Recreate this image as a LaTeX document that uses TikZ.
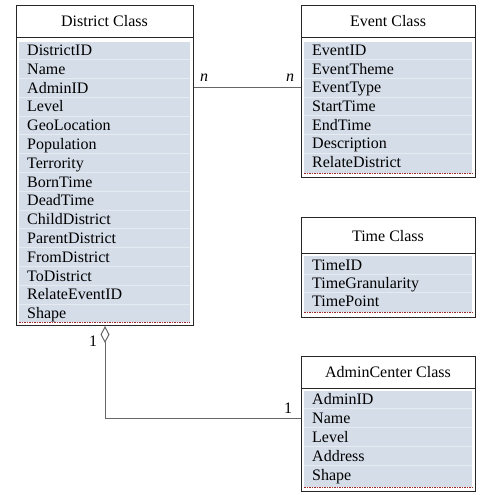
\documentclass[tikz,border=0pt]{standalone}
\usepackage{fontspec}
\setmainfont{Liberation Serif}
\usetikzlibrary{arrows.meta}
\definecolor{attrblue}{RGB}{213,221,233}
\definecolor{rowline}{RGB}{230,235,242}
\definecolor{dashred}{RGB}{160,40,40}

\begin{document}
\begin{tikzpicture}[x=1pt,y=-1pt,
            font=\fontsize{16}{18}\selectfont,
            classbox/.style={draw=black!85,line width=1pt,anchor=north west,inner sep=0pt},
            attr/.style={anchor=west,inner sep=0pt,text height=12.5pt,text depth=1.5pt},
            title/.style={inner sep=0pt},
            sep/.style={draw=black!85,line width=1pt},
            attrdash/.style={draw=dashred,line width=0.6pt,dash pattern=on 1.5pt off 1pt},
            link/.style={draw=black!60,line width=1pt},
            mult/.style={inner sep=0pt},
        ]
        \useasboundingbox (0,0) rectangle (496,495);
        % District Class
        \node[classbox,minimum width=177pt,minimum height=320pt] (districtbox) at (16,5) {};
        \node[title] (district) at (104.5,21) {District Class};
        \draw[sep] (16,38) -- (193,38);
        \fill[attrblue] (19,42) rectangle (190,322);
        \foreach \i in {1,...,14}
            \draw[rowline] (19,{50+(\i-0.5)*18.8}) -- (190,{50+(\i-0.5)*18.8});
        \draw[attrdash] (19,322) -- (190,322);
        \foreach \t [count=\i] in {DistrictID,Name,AdminID,Level,GeoLocation,Population,Terrority,BornTime,DeadTime,ChildDistrict,ParentDistrict,FromDistrict,ToDistrict,RelateEventID,Shape}
            \node[attr] (district-\i) at (27,{50+(\i-1)*18.8}) {\t};
        % Event Class
        \node[classbox,minimum width=174pt,minimum height=172pt] (eventbox) at (301,5) {};
        \node[title] (event) at (388,21) {Event Class};
        \draw[sep] (301,38) -- (475,38);
        \fill[attrblue] (304,42) rectangle (472,173);
        \foreach \i in {1,...,6}
            \draw[rowline] (304,{50+(\i-0.5)*18.7}) -- (472,{50+(\i-0.5)*18.7});
        \draw[attrdash] (304,173) -- (472,173);
        \foreach \t [count=\i] in {EventID,EventTheme,EventType,StartTime,EndTime,Description,RelateDistrict}
            \node[attr] (event-\i) at (312,{50+(\i-1)*18.7}) {\t};
        % Time Class
        \node[classbox,minimum width=174pt,minimum height=100pt] (timebox) at (301,217) {};
        \node[title] (time) at (388,236) {Time Class};
        \draw[sep] (301,253) -- (475,253);
        \fill[attrblue] (304,256) rectangle (472,312);
        \foreach \i in {1,2}
            \draw[rowline] (304,{265+(\i-0.5)*18}) -- (472,{265+(\i-0.5)*18});
        \draw[attrdash] (304,312) -- (472,312);
        \foreach \t [count=\i] in {TimeID,TimeGranularity,TimePoint}
            \node[attr] (time-\i) at (312,{265+(\i-1)*18}) {\t};
        % AdminCenter Class
        \node[classbox,minimum width=174pt,minimum height=135pt] (adminbox) at (301,356) {};
        \node[title] (admin) at (388,372) {AdminCenter Class};
        \draw[sep] (301,388) -- (475,388);
        \fill[attrblue] (304,391) rectangle (472,487);
        \foreach \i in {1,...,4}
            \draw[rowline] (304,{399+(\i-0.5)*19}) -- (472,{399+(\i-0.5)*19});
        \draw[attrdash] (304,487) -- (472,487);
        \foreach \t [count=\i] in {AdminID,Name,Level,Address,Shape}
            \node[attr] (admin-\i) at (312,{399+(\i-1)*19}) {\t};
        % associations
        \draw[link] (districtbox.east |- district-3) -- (eventbox.west |- district-3);
        \node[mult] (distn) at (204,78) {\textit{n}};
        \node[mult] (eventn) at (290,78) {\textit{n}};
        \draw[link,{Diamond[open,length=17pt,width=9pt,line width=1pt]}-] (districtbox.south) |- (adminbox.west |- admin-2);
        \node[mult] (distone) at (93,341) {1};
        \node[mult] (adminone) at (288,408) {1};
    \end{tikzpicture}
\end{document}
